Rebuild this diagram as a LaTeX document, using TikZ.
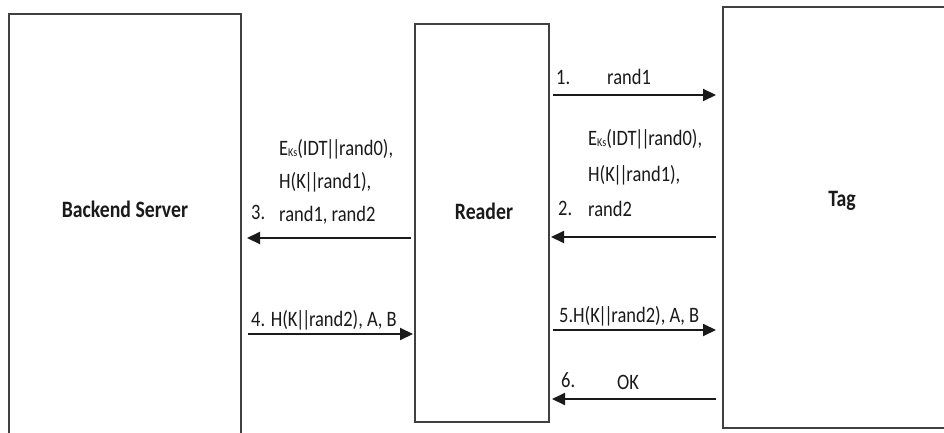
\documentclass[tikz,border=0pt]{standalone}
\usepackage{fontspec}
\setmainfont{Carlito}[FakeStretch=0.84]
\usetikzlibrary{arrows.meta}
\definecolor{boxgray}{HTML}{404040}
\definecolor{inkblack}{HTML}{1A1A1A}
\newcommand{\Eks}{E\raisebox{-1pt}{\fontsize{12}{12}\selectfont Ks}}
\newcommand{\dbar}{\kern-1.5pt|\kern-2.5pt|\kern-1.5pt}
\begin{document}
\begin{tikzpicture}[x=1pt,y=-1pt,
  entity/.style={draw=boxgray, line width=1.3pt, inner sep=0pt},
  msg/.style={line width=2pt, draw=inkblack, -{Triangle[length=13pt,width=12pt]}},
  lbl/.style={anchor=base west, inner sep=0pt, text=inkblack, font=\fontsize{22}{22}\selectfont},
  title/.style={inner sep=0pt, text=inkblack, font=\fontsize{23.5}{23.5}\selectfont\bfseries}]
  \path[fill=white, use as bounding box] (0,0) rectangle (944,433);
  \clip (0,0) rectangle (944,433);

  % the three parties
  \node[entity, minimum width=232pt, minimum height=440pt] (server) at (125,234) {};
  \node[entity, minimum width=134pt, minimum height=398pt] (reader) at (482,223) {};
  \node[entity, minimum width=280pt, minimum height=421pt] (tag) at (863,217.5) {};
  \node[title] (serverlabel) at (125,209) {Backend Server};
  \node[title] (readerlabel) at (484,211) {Reader};
  \node[title] (taglabel) at (842,201) {Tag};

  % arrow end points
  \coordinate (a1s) at (553,95);  \coordinate (a1e) at (716,95);
  \coordinate (a2s) at (716,237); \coordinate (a2e) at (551,237);
  \coordinate (a3s) at (411,238); \coordinate (a3e) at (247,238);
  \coordinate (a4s) at (248,334); \coordinate (a4e) at (413,334);
  \coordinate (a5s) at (553,330); \coordinate (a5e) at (716,330);
  \coordinate (a6s) at (716,399); \coordinate (a6e) at (552,399);

  \draw[msg] (a1s) -- (a1e);
  \draw[msg] (a2s) -- (a2e);
  \draw[msg] (a3s) -- (a3e);
  \draw[msg] (a4s) -- (a4e);
  \draw[msg] (a5s) -- (a5e);
  \draw[msg] (a6s) -- (a6e);

  % step 1
  \node[lbl] (n1) at (556,85) {1.};
  \node[lbl] (m1) at (607,85) {rand1};
  % step 2
  \node[lbl] (m2a) at (588,146) {\Eks(IDT\dbar rand0),};
  \node[lbl] (m2b) at (588,181) {H(K\dbar rand1),};
  \node[lbl] (m2c) at (588,216) {rand2};
  \node[lbl] (n2) at (558,215) {2.};
  % step 3
  \node[lbl] (m3a) at (279,155) {\Eks(IDT\dbar rand0),};
  \node[lbl] (m3b) at (279,188) {H(K\dbar rand1),};
  \node[lbl] (m3c) at (279,221) {rand1, rand2};
  \node[lbl] (n3) at (251,219) {3.};
  % step 4
  \node[lbl] (m4) at (251,326) {4. H(K\dbar rand2), A, B};
  % step 5
  \node[lbl] (m5) at (559,322) {5.H(K\dbar rand2), A, B};
  % step 6
  \node[lbl] (n6) at (561,387) {6.};
  \node[lbl] (m6) at (617,389) {OK};
\end{tikzpicture}
\end{document}
